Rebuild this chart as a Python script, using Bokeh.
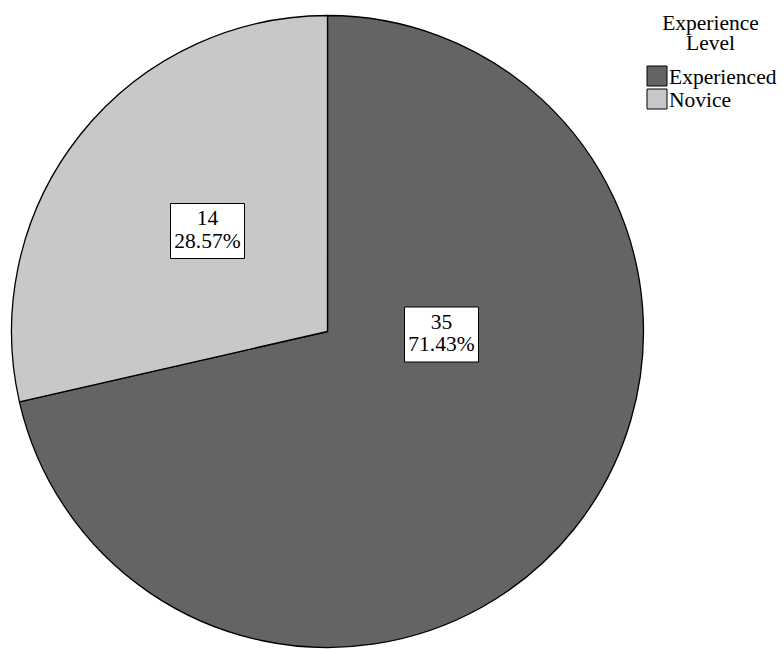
import numpy as np
from bokeh.plotting import figure
from bokeh.models import Range1d
from bokeh.core.properties import value
from bokeh.embed import file_html
from bokeh.resources import INLINE

# ---- data ----
categories = ["Experienced", "Novice"]
counts = [35, 14]
colors = ["#646464", "#c8c8c8"]
legend_title = ["Experience", "Level"]

# ---- layout ----
W, H = 783, 649
FONT = value("Liberation Serif")
FS = "21.5px"
TY = 8  # text vertical correction
cx, cy, R = 327, 318, 316
# label box centre offsets from pie centre (pixels)
label_offsets = {"Experienced": (114, -3), "Novice": (-120, 100.5)}

total = sum(counts)
fracs = np.array(counts) / total
cum = np.concatenate([[0], np.cumsum(fracs)])
starts = np.pi / 2 - cum[1:] * 2 * np.pi
ends = np.pi / 2 - cum[:-1] * 2 * np.pi

p = figure(width=W, height=H, x_range=Range1d(0, W), y_range=Range1d(0, H),
           output_backend="svg", toolbar_location=None, min_border=0)
p.axis.visible = False
p.grid.visible = False
p.outline_line_color = None
p.background_fill_color = "white"

p.wedge(x=[cx] * len(counts), y=[cy] * len(counts), radius=R,
        start_angle=list(starts), end_angle=list(ends),
        fill_color=colors, line_color="black", line_width=1.3)

# labels
for cat, c in zip(categories, counts):
    dx, dy = label_offsets[cat]
    bx, by = cx + dx, cy + dy
    pct = f"{100 * c / total:.2f}%"
    p.rect(x=[bx], y=[by], width=74, height=55, fill_color="white",
           line_color="black", line_width=1)
    p.text(x=[bx], y=[by + 5 + TY], text=[str(c)], text_font=FONT,
           text_font_size=FS, text_align="center", text_baseline="alphabetic",
           text_color="black")
    p.text(x=[bx], y=[by - 17.5 + TY], text=[pct], text_font=FONT,
           text_font_size=FS, text_align="center", text_baseline="alphabetic",
           text_color="black")

# legend (screen -> data: x, H - y)
p.text(x=[710, 710], y=[H - 30 + TY, H - 50 + TY], text=legend_title, text_font=FONT,
       text_font_size=FS, text_align="center", text_baseline="alphabetic",
       text_color="black")
for i, (cat, col) in enumerate(zip(categories, colors)):
    sy = H - (75.5 + 23 * i)
    p.rect(x=[656.5], y=[sy], width=20, height=20, fill_color=col,
           line_color="black", line_width=1)
    p.text(x=[668.5], y=[H - (84 + 23 * i) + TY], text=[cat], text_font=FONT,
           text_font_size=FS, text_align="left", text_baseline="alphabetic",
           text_color="black")

open("out.html", "w").write(file_html(p, INLINE))
